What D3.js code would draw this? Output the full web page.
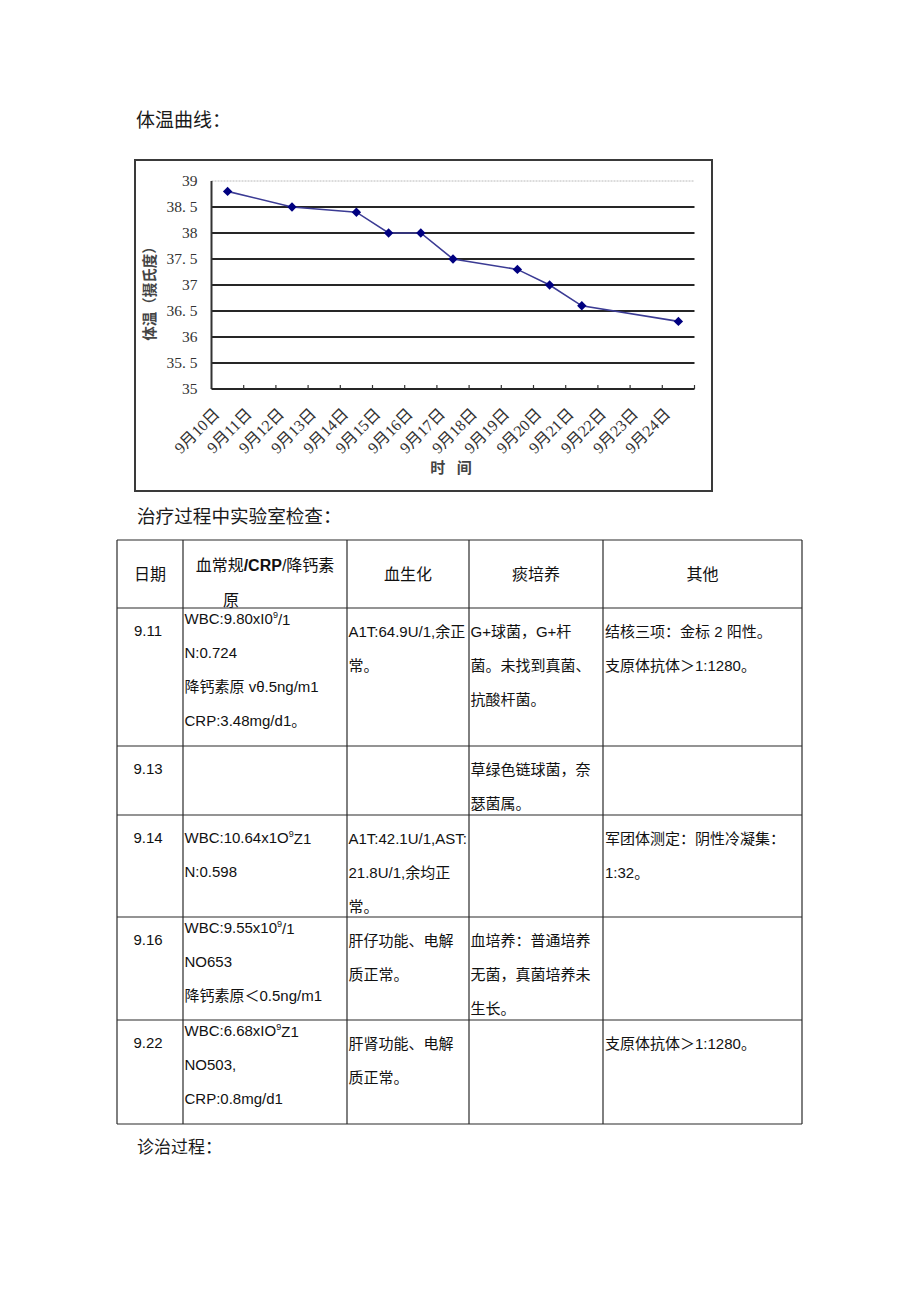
<!DOCTYPE html>
<html>
<head>
<meta charset="utf-8">
<script src="https://cdn.jsdelivr.net/npm/d3@7"></script>
<style>
  html, body { margin: 0; padding: 0; background: #fff; }
  svg { display: block; }
</style>
</head>
<body>
<svg id="page" width="920" height="1301"></svg>
<script>
// ---------------- DATA ----------------
const dates = ["9月10日","9月11日","9月12日","9月13日","9月14日","9月15日","9月16日","9月17日",
               "9月18日","9月19日","9月20日","9月21日","9月22日","9月23日","9月24日"];
const temps = [38.8, null, 38.5, null, 38.4, 38.0, 38.0, 37.5, null, 37.3, 37.0, 36.6, null, null, 36.3];
const yTicks = [35, 35.5, 36, 36.5, 37, 37.5, 38, 38.5, 39];
const yTitle = "体温（摄氏度）";
const xTitle = "时 间";

const pageTitle1 = "体温曲线：";
const pageTitle2 = "治疗过程中实验室检查：";
const pageTitle3 = "诊治过程：";

const headers = ["日期", "血常规/CRP/降钙素原", "血生化", "痰培养", "其他"];
const labDates = ["9.11", "9.13", "9.14", "9.16", "9.22"];
const cbc = [
  ["WBC:9.80xI0^9/1", "N:0.724", "降钙素原 vθ.5ng/m1", "CRP:3.48mg/d1。"],
  [],
  ["WBC:10.64x1O^9Z1", "N:0.598"],
  ["WBC:9.55x10^9/1", "NO653", "降钙素原＜0.5ng/m1"],
  ["WBC:6.68xIO^9Z1", "NO503,", "CRP:0.8mg/d1"]
];
const biochem = [
  ["A1T:64.9U/1,余正", "常。"],
  [],
  ["A1T:42.1U/1,AST:", "21.8U/1,余均正", "常。"],
  ["肝仔功能、电解", "质正常。"],
  ["肝肾功能、电解", "质正常。"]
];
const sputum = [
  ["G+球菌，G+杆", "菌。未找到真菌、", "抗酸杆菌。"],
  ["草绿色链球菌，奈", "瑟菌属。"],
  [],
  ["血培养：普通培养", "无菌，真菌培养未", "生长。"],
  []
];
const others = [
  ["结核三项：金标 2 阳性。", "支原体抗体＞1:1280。"],
  [],
  ["军团体测定：阴性冷凝集：", "1:32。"],
  [],
  ["支原体抗体＞1:1280。"]
];

// ---------------- PAGE ----------------
const svg = d3.select("#page");
const cjk = "'Noto Sans CJK SC', sans-serif";
const sansMix = "'Liberation Sans', Arial, 'Noto Sans CJK SC', sans-serif";
const serifMix = "'Liberation Serif', 'DejaVu Serif', 'Noto Sans CJK SC', serif";

function title(txt, x, y, size) {
  svg.append("text").attr("x", x).attr("y", y).attr("dy", "0.36em")
    .attr("font-family", cjk).attr("font-size", size).attr("fill", "#1a1a1a")
    .text(txt);
}
title(pageTitle1, 136, 120, 19);
title(pageTitle2, 137, 516, 18.6);
title(pageTitle3, 137, 1147, 17);

// ---------------- CHART ----------------
const frame = {x: 135, y: 160, w: 577, h: 331};
svg.append("rect").attr("x", frame.x).attr("y", frame.y).attr("width", frame.w).attr("height", frame.h)
  .attr("fill", "#fff").attr("stroke", "#3a3a3a").attr("stroke-width", 2);

const plot = {left: 211.5, right: 694.5, top: 181, bottom: 389};
const x = d3.scaleBand().domain(dates).range([plot.left, plot.right]).paddingInner(0).paddingOuter(0);
const y = d3.scaleLinear().domain([35, 39]).range([plot.bottom, plot.top]);

const g = svg.append("g");

// gridlines
g.selectAll("line.grid").data(yTicks.filter(v => v > 35)).join("line")
  .attr("class", "grid")
  .attr("x1", plot.left).attr("x2", plot.right)
  .attr("y1", d => y(d)).attr("y2", d => y(d))
  .attr("stroke", d => d === 39 ? "#b8b8b8" : "#262626")
  .attr("stroke-width", d => d === 39 ? 1 : 2)
  .attr("stroke-dasharray", d => d === 39 ? "2,1" : null);

// y axis
const yAxis = d3.axisLeft(y).tickValues(yTicks).tickSize(0).tickPadding(14)
  .tickFormat(d => (d % 1 ? d.toFixed(1).replace(".", ". ") : String(d)));
const yg = g.append("g").attr("transform", `translate(${plot.left},0)`).call(yAxis);
yg.attr("font-family", null).attr("font-size", null);
yg.select(".domain").remove();
yg.selectAll("text").attr("font-family", serifMix).attr("font-size", 15.5).attr("fill", "#333")
  .style("white-space", "pre");
g.append("line").attr("x1", plot.left).attr("x2", plot.left).attr("y1", plot.top).attr("y2", plot.bottom)
  .attr("stroke", "#333").attr("stroke-width", 2);

// x axis
g.append("line").attr("x1", plot.left).attr("x2", plot.right).attr("y1", plot.bottom).attr("y2", plot.bottom)
  .attr("stroke", "#262626").attr("stroke-width", 2);
g.selectAll("line.xtick").data(dates).join("line").attr("class", "xtick")
  .attr("x1", d => x(d) + x.bandwidth()).attr("x2", d => x(d) + x.bandwidth())
  .attr("y1", plot.bottom).attr("y2", plot.bottom - 4)
  .attr("stroke", "#333").attr("stroke-width", 1.2);
g.selectAll("text.xlab").data(dates).join("text").attr("class", "xlab")
  .attr("transform", d => `translate(${x(d) + x.bandwidth() / 2 - 11},${plot.bottom + 22}) rotate(-45)`)
  .attr("text-anchor", "end").attr("dy", "0.35em")
  .attr("font-family", serifMix).attr("font-size", 16).attr("fill", "#333")
  .text(d => d);

// axis titles
g.append("text").attr("transform", `translate(150,290) rotate(-90)`)
  .attr("text-anchor", "middle").attr("dy", "0.36em")
  .attr("font-family", cjk).attr("font-weight", "bold").attr("font-size", 14.5).attr("fill", "#444")
  .text(yTitle);
g.append("text").attr("x", (plot.left + plot.right) / 2).attr("y", 468).attr("dy", "0.36em")
  .attr("text-anchor", "middle").attr("font-family", cjk).attr("font-weight", "bold")
  .attr("font-size", 15).attr("fill", "#444").attr("letter-spacing", 4).style("white-space", "pre")
  .text(xTitle);

// line + markers
const pts = dates.map((d, i) => ({d, v: temps[i]})).filter(p => p.v != null);
const line = d3.line().x(p => x(p.d) + x.bandwidth() / 2).y(p => y(p.v));
g.append("path").datum(pts).attr("d", line).attr("fill", "none")
  .attr("stroke", "#3b3b94").attr("stroke-width", 1.6);
g.selectAll("path.mk").data(pts).join("path").attr("class", "mk")
  .attr("d", d3.symbol().type(d3.symbolSquare).size(44))
  .attr("transform", p => `translate(${x(p.d) + x.bandwidth() / 2},${y(p.v)}) rotate(45)`)
  .attr("fill", "#000080");

// ---------------- TABLE ----------------
const colEdges = [117, 183, 347, 469, 603, 802];
const rowEdges = [540, 608, 746, 815, 917, 1020, 1124];
const tg = svg.append("g");

// borders
tg.selectAll("line.h").data(rowEdges).join("line").attr("class", "h")
  .attr("x1", colEdges[0]).attr("x2", colEdges[colEdges.length - 1])
  .attr("y1", d => d).attr("y2", d => d)
  .attr("stroke", "#2a2a2a").attr("stroke-width", 1.2);
tg.selectAll("line.v").data(colEdges).join("line").attr("class", "v")
  .attr("x1", d => d).attr("x2", d => d)
  .attr("y1", rowEdges[0]).attr("y2", rowEdges[rowEdges.length - 1])
  .attr("stroke", "#2a2a2a").attr("stroke-width", 1.2);

// header
const hMid = (rowEdges[0] + rowEdges[1]) / 2;
headers.forEach((h, i) => {
  const cx = (colEdges[i] + colEdges[i + 1]) / 2;
  if (h.includes("/")) {
    const t1 = tg.append("text").attr("x", cx).attr("y", hMid - 9).attr("dy", "0.36em")
      .attr("text-anchor", "middle").attr("font-family", sansMix).attr("font-size", 16).attr("fill", "#111");
    const parts = h.split("/");           // 血常规, CRP, 降钙素原
    t1.append("tspan").text(parts[0]);
    t1.append("tspan").attr("font-weight", "bold").text("/" + parts[1]);
    t1.append("tspan").text("/" + parts[2].slice(0, -1));
    tg.append("text").attr("x", colEdges[i] + 48).attr("y", hMid + 26).attr("dy", "0.36em")
      .attr("text-anchor", "middle").attr("font-family", sansMix).attr("font-size", 16).attr("fill", "#111")
      .text(parts[2].slice(-1));
  } else {
    tg.append("text").attr("x", cx).attr("y", hMid).attr("dy", "0.36em")
      .attr("text-anchor", "middle").attr("font-family", sansMix).attr("font-size", 16).attr("fill", "#111")
      .text(h);
  }
});

// body
const lineGap = 34;
function cellText(lines, xLeft, yStart) {
  lines.forEach((ln, k) => {
    const t = tg.append("text").attr("x", xLeft).attr("y", yStart + k * lineGap).attr("dy", "0.36em")
      .attr("font-family", sansMix).attr("font-size", 15).attr("fill", "#111")
      .style("white-space", "pre");
    const m = ln.split("^");
    if (m.length === 2) {
      t.append("tspan").text(m[0]);
      t.append("tspan").attr("font-size", 9).attr("dy", "-0.75em").text(m[1][0]);
      t.append("tspan").attr("dy", "0.5em").text(m[1].slice(1));
    } else {
      t.text(ln);
    }
  });
}
labDates.forEach((d, r) => {
  const top = rowEdges[r + 1];
  tg.append("text").attr("x", 148).attr("y", top + 23).attr("dy", "0.36em")
    .attr("text-anchor", "middle").attr("font-family", sansMix).attr("font-size", 15).attr("fill", "#111")
    .text(d);
  cellText(cbc[r], colEdges[1] + 1.5, top + (cbc[r].length >= 3 ? 11 : 23));
  cellText(biochem[r], colEdges[2] + 1.5, top + 23.5);
  cellText(sputum[r], colEdges[3] + 1.5, top + 23.5);
  cellText(others[r], colEdges[4] + 2, top + 23.5);
});
</script>
</body>
</html>
